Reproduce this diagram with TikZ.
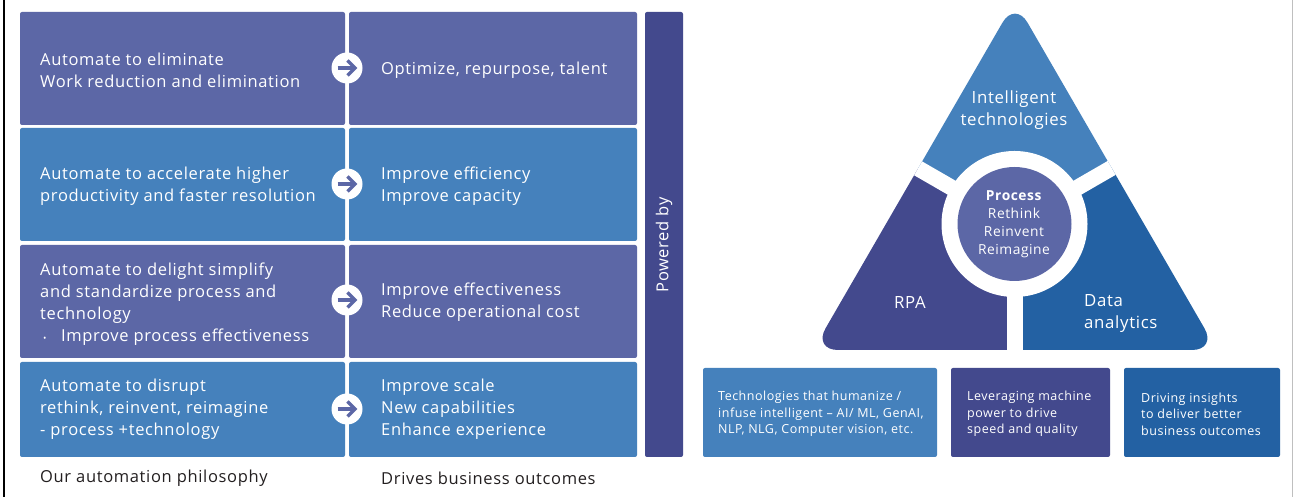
\documentclass[tikz,border=0pt]{standalone}
\usepackage{fontspec}
\setmainfont{Open Sans}[LetterSpace=4]
\usetikzlibrary{calc}
\definecolor{purp}{HTML}{5C67A6}
\definecolor{brow}{HTML}{4581BC}
\definecolor{dpurp}{HTML}{43498D}
\definecolor{dblue}{HTML}{2361A3}
\definecolor{labc}{HTML}{231F20}
\newcommand{\fsz}[2]{\fontsize{#1}{#2}\selectfont}
\tikzset{
  cell/.style={fill=#1, rounded corners=2},
  lt/.style={anchor=west, align=left, inner sep=0, text=white, font=\fsz{16.5}{22}},
  ct/.style={align=center, inner sep=0, text=white, font=\fsz{16.8}{22}},
  st/.style={anchor=west, align=left, inner sep=0, text=white, font=\fsz{12.5}{16.6}},
  arrcirc/.style={circle, fill=white, minimum size=31, inner sep=0},
  arr/.style={draw=purp, line width=3.4},
}
\begin{document}
\begin{tikzpicture}[x=1pt,y=1pt]
\useasboundingbox (0,0) rectangle (1294,497);
\fill[white] (0,0) rectangle (1294,497);
% frame lines
\draw[black, line width=2] (4,0) -- (4,497);
\draw[black!25, line width=1.5] (1292.5,0) -- (1292.5,497);

% left grid
\fill[cell=purp] (20,372) rectangle (345,485);
\fill[cell=purp] (349,372) rectangle (637,485);
\fill[cell=brow] (20,256) rectangle (345,369);
\fill[cell=brow] (349,256) rectangle (637,369);
\fill[cell=purp] (20,139) rectangle (345,252);
\fill[cell=purp] (349,139) rectangle (637,252);
\fill[cell=brow] (20,40) rectangle (345,135);
\fill[cell=brow] (349,40) rectangle (637,135);
\fill[cell=dpurp] (645,40) rectangle (683,485);

\node[lt] (l1) at (40,427) {Automate to eliminate\\Work reduction and elimination};
\node[lt] (r1) at (381,427) {Optimize, repurpose, talent};
\node[lt] (l2) at (40,310.5) {Automate to accelerate higher\\productivity and faster resolution};
\node[lt] (r2) at (381,310.5) {Improve efficiency\\Improve capacity};
\node[lt] (l3) at (40,192.5) {Automate to delight simplify\\and standardize process and\\technology\\\hspace*{3pt}{\fsz{9}{9}\textbullet}\hspace{14.5pt}Improve process effectiveness};
\node[lt] (r3) at (381,194.5) {Improve effectiveness\\Reduce operational cost};
\node[lt] (l4) at (40,87.5) {Automate to disrupt\\rethink, reinvent, reimagine\\- process +technology};
\node[lt] (r4) at (381,87.5) {Improve scale\\New capabilities\\Enhance experience};

\node[ct, font=\fsz{16.5}{22}, rotate=90] (pw) at (664,252) {Powered by};

% arrow circles
\foreach \n/\yy in {a1/429, a2/313, a3/197, a4/88}{
  \node[arrcirc] (\n) at (347,\yy) {};
  \draw[arr] ($(\n)+(-9.5,0)$) -- ($(\n)+(7,0)$);
  \draw[arr, line join=miter] ($(\n)+(0.5,7.5)$) -- ($(\n)+(8,0)$) -- ($(\n)+(0.5,-7.5)$);
}

% bottom labels
\node[lt, text=labc] (lab1) at (40,19) {Our automation philosophy};
\node[lt, text=labc] (lab2) at (381,19) {Drives business outcomes};

% triangle
\coordinate (tA) at (1015,496);
\coordinate (tL) at (813,147);
\coordinate (tR) at (1217,147);
\coordinate (tC) at (1014.5,273);
\begin{scope}
  \clip[rounded corners=25] ($(tL)!0.5!(tR)$) -- (tR) -- (tA) -- (tL) -- cycle;
  \fill[brow] (tC) -- +(30:500) -- +(90:500) -- +(150:500) -- cycle;
  \fill[dpurp] (tC) -- +(150:500) -- +(210:500) -- +(270:500) -- cycle;
  \fill[dblue] (tC) -- +(270:500) -- +(330:500) -- +(30:500) -- cycle;
  \fill[white] (tC) circle (73);
  \draw[white, line width=16] (tC) -- +(30:400);
  \draw[white, line width=16] (tC) -- +(150:400);
  \draw[white, line width=16] (tC) -- +(270:400);
\end{scope}
\node[circle, fill=purp, minimum size=114, inner sep=0] (proc) at (tC) {};
\node[ct, font=\fsz{13.8}{18}] (proct) at (1014,273) {\textbf{Process}\\Rethink\\Reinvent\\Reimagine};
\node[ct] (it) at (1014,387) {Intelligent\\technologies};
\node[ct] (rpa) at (910,195) {RPA};
\node[lt, font=\fsz{16.8}{22.5}] (da) at (1084,183.5) {Data\\analytics};

% bottom boxes
\fill[cell=brow] (703,40) rectangle (937,129);
\fill[cell=dpurp] (951,40) rectangle (1110,129);
\fill[cell=dblue] (1124,40) rectangle (1280,129);
\node[st] (b1) at (718,83) {Technologies that humanize /\\infuse intelligent – AI/ ML, GenAI,\\NLP, NLG, Computer vision, etc.};
\node[st] (b2) at (967,83) {Leveraging machine\\power to drive\\speed and quality};
\node[st] (b3) at (1141,83) {Driving insights\\to deliver better\\business outcomes};
\end{tikzpicture}
\end{document}
